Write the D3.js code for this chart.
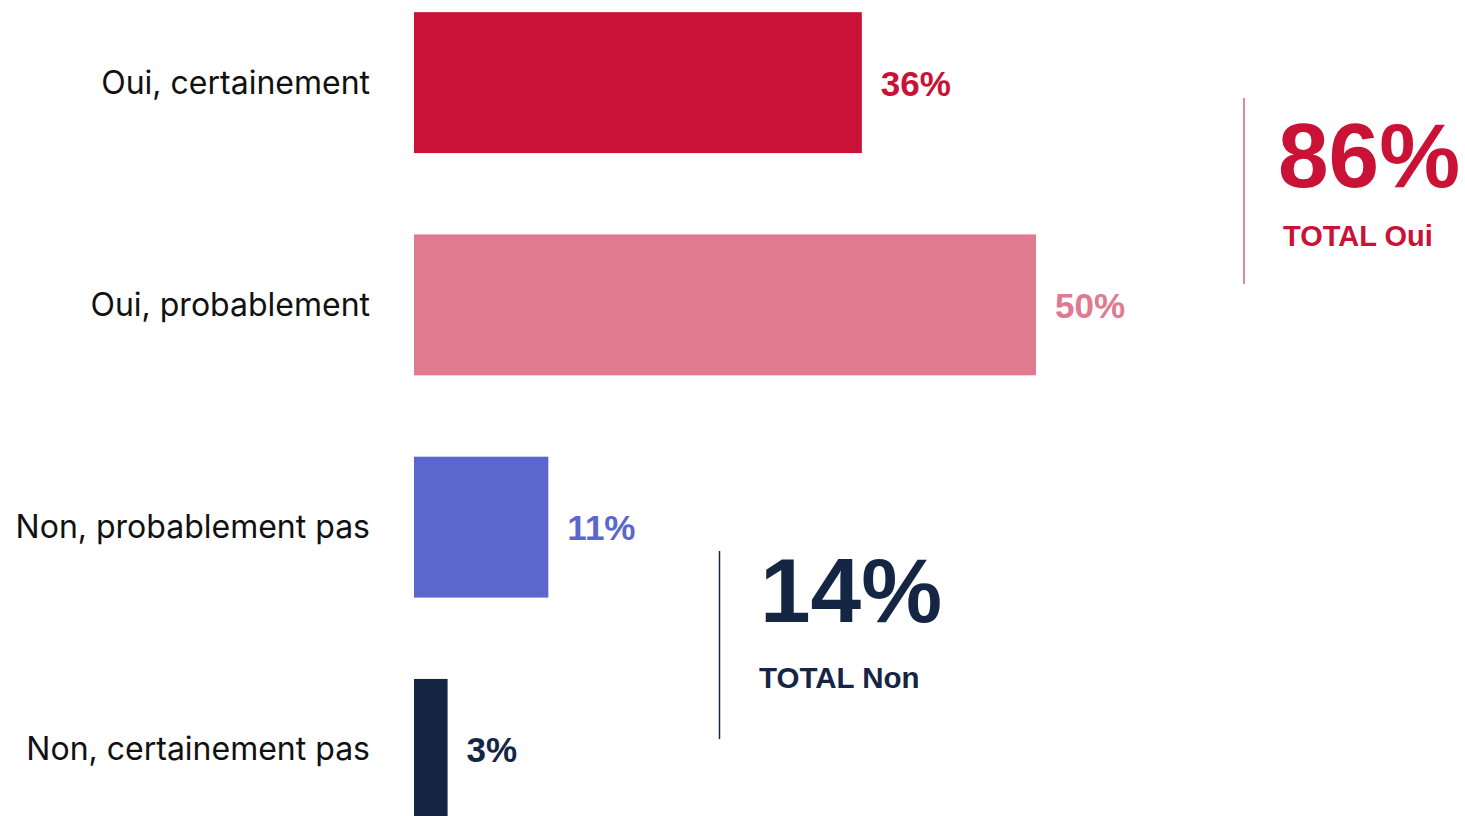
<!DOCTYPE html>
<html><head><meta charset="utf-8">
<script src="https://cdn.jsdelivr.net/npm/d3@7"></script>
<style>html,body{margin:0;padding:0;background:#fff;overflow:hidden}</style>
</head><body>
<svg id="c" width="1465" height="816"></svg>
<script>
const categories = ["Oui, certainement", "Oui, probablement", "Non, probablement pas", "Non, certainement pas"];
const values = [36, 50, 10.8, 2.7];
const valueLabels = ["36%", "50%", "11%", "3%"];
const colors = ["#C91235", "#E07A8F", "#5B67CC", "#142644"];
const totalOui = "86%";
const totalNon = "14%";

const svg = d3.select("#c");
const x = d3.scaleLinear().domain([0, 50]).range([414, 1036]);
const y = d3.scaleBand().domain(categories).range([-28.5, 860.5]).paddingInner(0.366).paddingOuter(0.183);

svg.selectAll("rect.bar").data(categories).join("rect")
  .attr("class","bar")
  .attr("x", x(0))
  .attr("y", d => y(d))
  .attr("width", (d,i) => x(values[i]) - x(0))
  .attr("height", y.bandwidth())
  .attr("fill", (d,i) => colors[i]);

svg.selectAll("text.cat").data(categories).join("text")
  .attr("class","cat")
  .attr("x", 370)
  .attr("y", d => y(d) + y.bandwidth()/2 + 11)
  .attr("text-anchor","end")
  .attr("font-family","Inter, 'Open Sans', sans-serif")
  .attr("font-size", 32)
  .attr("fill","#111")
  .text(d => d);

svg.selectAll("text.val").data(categories).join("text")
  .attr("class","val")
  .attr("x", (d,i) => x(values[i]) + 19)
  .attr("y", (d,i) => y(d) + y.bandwidth()/2 + 13)
  .attr("font-family","'Liberation Sans', Arial, sans-serif")
  .attr("font-weight","bold")
  .attr("font-size", 35)
  .attr("fill", (d,i) => colors[i])
  .text((d,i) => valueLabels[i]);

// Total Oui
svg.append("line").attr("x1",1244).attr("x2",1244).attr("y1",98).attr("y2",284)
  .attr("stroke","#D9607A").attr("stroke-width",1.5);
svg.append("text").attr("x",1278).attr("y",187)
  .attr("font-family","'Liberation Sans', Arial, sans-serif").attr("font-weight","bold")
  .attr("font-size",91).attr("fill",colors[0]).text(totalOui);
svg.append("text").attr("x",1283).attr("y",246)
  .attr("font-family","'Liberation Sans', Arial, sans-serif").attr("font-weight","bold")
  .attr("font-size",29).attr("fill",colors[0]).text("TOTAL Oui");

// Total Non
svg.append("line").attr("x1",719.5).attr("x2",719.5).attr("y1",551).attr("y2",739)
  .attr("stroke","#142644").attr("stroke-width",1.5);
svg.append("text").attr("x",760).attr("y",622)
  .attr("font-family","'Liberation Sans', Arial, sans-serif").attr("font-weight","bold")
  .attr("font-size",91).attr("fill",colors[3]).text(totalNon);
svg.append("text").attr("x",759).attr("y",688)
  .attr("font-family","'Liberation Sans', Arial, sans-serif").attr("font-weight","bold")
  .attr("font-size",29.5).attr("fill",colors[3]).text("TOTAL Non");
</script>
</body></html>
